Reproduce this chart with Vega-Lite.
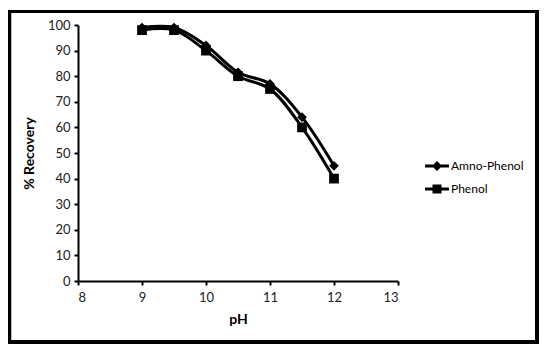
{
  "$schema": "https://vega.github.io/schema/vega-lite/v6.json",
  "autosize": {"type": "none"},
  "width": 320,
  "height": 256,
  "padding": {"left": 78, "top": 25, "right": 152, "bottom": 75},
  "background": "white",
  "config": {
    "view": {"stroke": null},
    "font": "Lato",
    "axis": {
      "grid": false,
      "domainColor": "black",
      "domainWidth": 2,
      "tickColor": "black",
      "tickWidth": 2,
      "tickSize": 4,
      "labelOverlap": false,
      "labelFont": "Lato",
      "labelFontSize": 13,
      "labelColor": "#222",
      "titleFont": "Lato",
      "titleFontSize": 14,
      "titleFontWeight": "bold",
      "titleColor": "black"
    }
  },
  "data": {
    "values": [
      {"pH": 9, "recovery": 99, "series": "Amno-Phenol"},
      {"pH": 9.5, "recovery": 99, "series": "Amno-Phenol"},
      {"pH": 10, "recovery": 92, "series": "Amno-Phenol"},
      {"pH": 10.5, "recovery": 81.5, "series": "Amno-Phenol"},
      {"pH": 11, "recovery": 77, "series": "Amno-Phenol"},
      {"pH": 11.5, "recovery": 64, "series": "Amno-Phenol"},
      {"pH": 12, "recovery": 45, "series": "Amno-Phenol"},
      {"pH": 9, "recovery": 98, "series": "Phenol"},
      {"pH": 9.5, "recovery": 98, "series": "Phenol"},
      {"pH": 10, "recovery": 90, "series": "Phenol"},
      {"pH": 10.5, "recovery": 80, "series": "Phenol"},
      {"pH": 11, "recovery": 75, "series": "Phenol"},
      {"pH": 11.5, "recovery": 60, "series": "Phenol"},
      {"pH": 12, "recovery": 40, "series": "Phenol"}
    ]
  },
  "resolve": {"scale": {"x": "independent", "y": "independent"}, "axis": {"x": "independent", "y": "independent"}},
  "layer": [
    {
      "layer": [
        {
          "mark": {"type": "line", "interpolate": "catmull-rom", "strokeWidth": 3},
          "encoding": {
            "x": {"field": "pH", "type": "quantitative", "title": "pH",
                  "scale": {"domain": [8, 13], "nice": false, "zero": false},
                  "axis": {"values": [8, 9, 10, 11, 12, 13], "tickCount": 6, "format": "d", "labelPadding": 6, "titlePadding": 8}},
            "y": {"field": "recovery", "type": "quantitative", "title": "% Recovery",
                  "scale": {"domain": [0, 100], "nice": false},
                  "axis": {"values": [0, 10, 20, 30, 40, 50, 60, 70, 80, 90, 100], "tickCount": 11, "format": "d", "labelPadding": 4, "titlePadding": 11}},
            "color": {
              "field": "series", "type": "nominal",
              "scale": {"domain": ["Amno-Phenol", "Phenol"], "range": ["black", "black"]},
              "legend": {
                "title": null,
                "orient": "none",
                "legendX": 347,
                "legendY": 129,
                "padding": 0,
                "symbolSize": 576,
                "labelFont": "Lato",
                "labelFontSize": 12,
                "labelColor": "black",
                "labelOffset": 2,
                "rowPadding": 5,
                "encode": {
                  "symbols": {
                    "update": {
                      "shape": {"signal": "datum.value === 'Phenol' ? 'M-1,-0.125H1V0.125H-1Z M-0.375,-0.375H0.375V0.375H-0.375Z' : 'M-1,-0.125H1V0.125H-1Z M0,-0.42L0.42,0L0,0.42L-0.42,0Z'"},
                      "fill": {"value": "black"},
                      "strokeWidth": {"value": 0},
                      "opacity": {"value": 1}
                    }
                  }
                }
              }
            }
          }
        },
        {
          "mark": {"type": "point", "filled": true, "opacity": 1, "color": "black"},
          "encoding": {
            "x": {"field": "pH", "type": "quantitative"},
            "y": {"field": "recovery", "type": "quantitative"},
            "shape": {
              "condition": {"test": "datum.series === 'Phenol'", "value": "square"},
              "value": "diamond"
            },
            "size": {"value": 95}
          }
        }
      ]
    },
    {
      "mark": {"type": "rect", "fill": null, "stroke": "black", "strokeWidth": 3, "clip": false},
      "encoding": {
        "x": {"datum": 6.93, "type": "quantitative", "scale": {"domain": [8, 13], "nice": false, "zero": false}, "axis": null},
        "x2": {"datum": 15.17},
        "y": {"datum": 105.3, "type": "quantitative", "scale": {"domain": [0, 100], "nice": false}, "axis": null},
        "y2": {"datum": -23.8}
      }
    }
  ]
}
